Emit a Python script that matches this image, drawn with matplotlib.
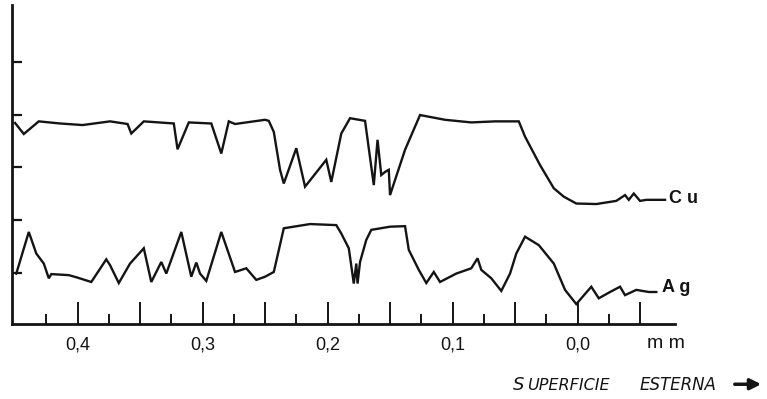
import matplotlib
matplotlib.use("Agg")
import matplotlib.pyplot as plt

plt.rcParams['font.family'] = ['Liberation Sans', 'DejaVu Sans']

# depth from the outer surface (mm) and relative intensity
cu_x = [0.450, 0.443, 0.431, 0.414, 0.396, 0.374, 0.360, 0.357, 0.350, 0.347,
        0.323, 0.320, 0.311, 0.293, 0.285, 0.279, 0.274, 0.250, 0.247, 0.243,
        0.238, 0.235, 0.225, 0.218, 0.201, 0.197, 0.189, 0.182, 0.170, 0.163,
        0.160, 0.157, 0.154, 0.151, 0.150, 0.138, 0.126, 0.106, 0.085, 0.066,
        0.047, 0.042, 0.030, 0.019, 0.011, 0.001, -0.015, -0.031, -0.038, -0.041,
        -0.045, -0.050, -0.055, -0.070]
cu_y = [3.84, 3.63, 3.87, 3.83, 3.80, 3.87, 3.82, 3.64, 3.80, 3.87,
        3.83, 3.34, 3.85, 3.83, 3.26, 3.87, 3.82, 3.90, 3.88, 3.67,
        2.95, 2.69, 3.36, 2.63, 3.14, 2.72, 3.64, 3.93, 3.88, 2.66,
        3.52, 2.85, 2.91, 2.95, 2.47, 3.33, 3.99, 3.90, 3.85, 3.87,
        3.87, 3.58, 3.04, 2.60, 2.44, 2.31, 2.30, 2.36, 2.47, 2.38,
        2.50, 2.36, 2.38, 2.38]

ag_x = [0.449, 0.439, 0.433, 0.427, 0.423, 0.421, 0.407, 0.401, 0.389, 0.377,
        0.374, 0.367, 0.358, 0.347, 0.341, 0.333, 0.329, 0.317, 0.309, 0.305,
        0.302, 0.297, 0.285, 0.274, 0.265, 0.257, 0.250, 0.243, 0.235, 0.214,
        0.193, 0.189, 0.183, 0.179, 0.177, 0.176, 0.174, 0.169, 0.165, 0.150,
        0.138, 0.135, 0.127, 0.121, 0.115, 0.110, 0.097, 0.085, 0.080, 0.077,
        0.069, 0.061, 0.054, 0.049, 0.042, 0.031, 0.019, 0.010, 0.001, -0.011,
        -0.017, -0.026, -0.034, -0.038, -0.047, -0.057, -0.063]
ag_y = [0.98, 1.77, 1.36, 1.17, 0.89, 0.97, 0.95, 0.91, 0.82, 1.25,
        1.14, 0.80, 1.17, 1.46, 0.82, 1.20, 0.98, 1.77, 0.92, 1.19,
        0.98, 0.84, 1.77, 1.01, 1.08, 0.86, 0.92, 1.01, 1.84, 1.92,
        1.90, 1.74, 1.46, 0.79, 1.17, 0.79, 1.20, 1.62, 1.81, 1.87,
        1.88, 1.43, 1.05, 0.80, 1.01, 0.82, 0.98, 1.08, 1.27, 1.05,
        0.89, 0.65, 0.98, 1.36, 1.68, 1.52, 1.17, 0.67, 0.40, 0.73,
        0.51, 0.63, 0.73, 0.57, 0.67, 0.63, 0.63]

major_ticks = [0.40, 0.35, 0.30, 0.25, 0.20, 0.15, 0.10, 0.05, 0.00, -0.05]
major_labels = ['0,4', '', '0,3', '', '0,2', '', '0,1', '', '0,0', '']
minor_ticks = [0.425, 0.375, 0.325, 0.275, 0.225, 0.175, 0.125, 0.075, 0.025, -0.025]
y_ticks = [1, 2, 3, 4, 5]

fig = plt.figure(figsize=(7.67, 3.99), dpi=100)
ax = fig.add_axes([0.0157, 0.189, 0.8644, 0.7985])

ink = '#141414'
ax.plot(cu_x, cu_y, color=ink, lw=1.7, solid_joinstyle='miter')
ax.plot(ag_x, ag_y, color=ink, lw=1.7, solid_joinstyle='miter')

ax.set_xlim(0.4524, -0.078)
ax.set_ylim(0.03, 6.08)

for s in ['top', 'right']:
    ax.spines[s].set_visible(False)
for s in ['left', 'bottom']:
    ax.spines[s].set_linewidth(2.0)
    ax.spines[s].set_color(ink)

ax.set_xticks(major_ticks)
ax.set_xticklabels(major_labels)
ax.set_xticks(minor_ticks, minor=True)
ax.tick_params(axis='x', which='major', direction='in', length=16, width=1.4,
               pad=9, labelsize=13, colors=ink)
ax.tick_params(axis='x', which='minor', direction='in', length=7, width=1.4,
               colors=ink)
ax.set_yticks(y_ticks)
ax.set_yticklabels([])
ax.tick_params(axis='y', direction='in', length=7, width=1.6, colors=ink)

# curve names
ax.text(-0.0735, 2.41, 'C u', fontsize=13, ha='left', va='center', color=ink,
        fontweight='bold', clip_on=False)
ax.text(-0.0675, 0.72, 'A g', fontsize=13, ha='left', va='center', color=ink,
        fontweight='bold', clip_on=False)

fig.text(0.868, 0.138, 'm m', fontsize=14, ha='center', va='center', color=ink)

fig.text(513 / 767, 0.035, 'S', fontsize=13, ha='left', va='center',
         color=ink, style='italic', family='DejaVu Sans')
fig.text(527 / 767, 0.035, 'UPERFICIE', fontsize=11.5, ha='left',
         va='center', color=ink, style='italic', family='DejaVu Sans')
fig.text(640 / 767, 0.035, 'ESTERNA', fontsize=12, ha='left',
         va='center', color=ink, style='italic', family='DejaVu Sans')
ax.annotate('', xy=(764 / 767, 0.037), xytext=(732 / 767, 0.037),
            xycoords='figure fraction', textcoords='figure fraction',
            arrowprops=dict(arrowstyle='-|>', lw=2.5, color=ink,
                            mutation_scale=16))

fig.savefig('out.png', dpi=100, facecolor='white')
